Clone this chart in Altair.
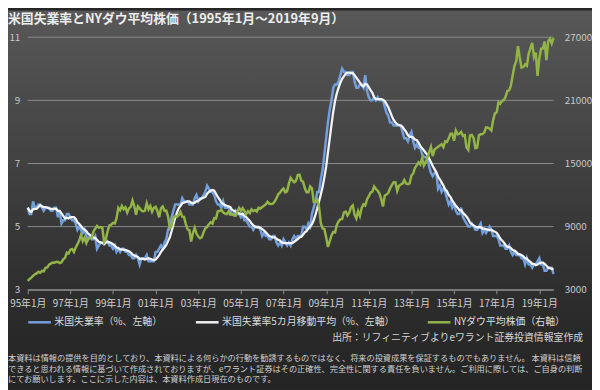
import json
import altair as alt
import pandas as pd

# ---- data (monthly, Jan 1995 - Sep 2019) ----
unemployment = [
    5.6, 5.4, 5.4, 5.8, 5.6, 5.6, 5.7, 5.7, 5.6, 5.5, 5.6, 5.6,   # 1995
    5.6, 5.5, 5.5, 5.6, 5.6, 5.3, 5.5, 5.1, 5.2, 5.2, 5.4, 5.4,   # 1996
    5.3, 5.2, 5.2, 5.1, 4.9, 5.0, 4.9, 4.8, 4.9, 4.7, 4.6, 4.7,   # 1997
    4.6, 4.6, 4.7, 4.3, 4.4, 4.5, 4.5, 4.5, 4.6, 4.5, 4.4, 4.4,   # 1998
    4.3, 4.4, 4.2, 4.3, 4.2, 4.3, 4.3, 4.2, 4.2, 4.1, 4.1, 4.0,   # 1999
    4.0, 4.1, 4.0, 3.8, 4.0, 4.0, 4.0, 4.1, 3.9, 3.9, 3.9, 3.9,   # 2000
    4.2, 4.2, 4.3, 4.4, 4.3, 4.5, 4.6, 4.9, 5.0, 5.3, 5.5, 5.7,   # 2001
    5.7, 5.7, 5.7, 5.9, 5.8, 5.8, 5.8, 5.7, 5.7, 5.7, 5.9, 6.0,   # 2002
    5.8, 5.9, 5.9, 6.0, 6.1, 6.3, 6.2, 6.1, 6.1, 6.0, 5.8, 5.7,   # 2003
    5.7, 5.6, 5.8, 5.6, 5.6, 5.6, 5.5, 5.4, 5.4, 5.5, 5.4, 5.4,   # 2004
    5.3, 5.4, 5.2, 5.2, 5.1, 5.0, 5.0, 4.9, 5.0, 5.0, 5.0, 4.9,   # 2005
    4.7, 4.8, 4.7, 4.7, 4.6, 4.6, 4.7, 4.7, 4.5, 4.4, 4.5, 4.4,   # 2006
    4.6, 4.5, 4.4, 4.5, 4.4, 4.6, 4.7, 4.6, 4.7, 4.7, 4.7, 5.0,   # 2007
    5.0, 4.9, 5.1, 5.0, 5.4, 5.6, 5.8, 6.1, 6.1, 6.5, 6.8, 7.3,   # 2008
    7.8, 8.3, 8.7, 9.0, 9.4, 9.5, 9.5, 9.6, 9.8, 10.0, 9.9, 9.9,  # 2009
    9.8, 9.8, 9.9, 9.9, 9.6, 9.4, 9.4, 9.5, 9.5, 9.4, 9.8, 9.3,   # 2010
    9.1, 9.0, 9.0, 9.1, 9.0, 9.1, 9.0, 9.0, 9.0, 8.8, 8.6, 8.5,   # 2011
    8.3, 8.3, 8.2, 8.2, 8.2, 8.2, 8.2, 8.0, 7.8, 7.8, 7.7, 7.9,   # 2012
    8.0, 7.7, 7.5, 7.6, 7.5, 7.5, 7.3, 7.2, 7.2, 7.2, 6.9, 6.7,   # 2013
    6.6, 6.7, 6.7, 6.2, 6.3, 6.1, 6.2, 6.1, 5.9, 5.7, 5.8, 5.6,   # 2014
    5.7, 5.5, 5.4, 5.4, 5.6, 5.3, 5.2, 5.1, 5.0, 5.0, 5.1, 5.0,   # 2015
    4.9, 4.9, 5.0, 5.1, 4.8, 4.9, 4.8, 4.9, 5.0, 4.9, 4.7, 4.7,   # 2016
    4.7, 4.6, 4.4, 4.4, 4.4, 4.3, 4.3, 4.4, 4.2, 4.1, 4.2, 4.1,   # 2017
    4.1, 4.1, 4.0, 4.0, 3.8, 4.0, 3.8, 3.8, 3.7, 3.8, 3.8, 3.9,   # 2018
    4.0, 3.8, 3.8, 3.6, 3.6, 3.7, 3.7, 3.7, 3.5,                  # 2019
]

dow = [
    3844, 4011, 4158, 4321, 4465, 4556, 4708, 4611, 4789, 4756, 5075, 5117,            # 1995
    5395, 5486, 5587, 5569, 5643, 5655, 5529, 5616, 5882, 6029, 6522, 6448,            # 1996
    6813, 6878, 6584, 7009, 7331, 7673, 8223, 7622, 7945, 7442, 7823, 7908,            # 1997
    7907, 8546, 8800, 9063, 8900, 8952, 8883, 7539, 7843, 8592, 9117, 9181,            # 1998
    9359, 9307, 9786, 10789, 10560, 10971, 10655, 10829, 10337, 10730, 10878, 11497,   # 1999
    10941, 10128, 10922, 10734, 10522, 10448, 10522, 11215, 10651, 10971, 10415, 10787, # 2000
    10887, 10495, 9879, 10735, 10912, 10502, 10523, 9950, 8848, 9075, 9852, 10022,     # 2001
    9920, 10106, 10404, 9946, 9925, 9243, 8737, 8664, 7592, 8397, 8896, 8342,          # 2002
    8054, 7891, 7992, 8480, 8850, 8985, 9234, 9416, 9275, 9801, 9782, 10454,           # 2003
    10488, 10584, 10358, 10226, 10188, 10435, 10140, 10174, 10080, 10027, 10428, 10783, # 2004
    10490, 10766, 10504, 10193, 10467, 10275, 10641, 10482, 10569, 10440, 10806, 10718, # 2005
    10865, 10993, 11109, 11367, 11168, 11150, 11186, 11381, 11679, 12081, 12222, 12463, # 2006
    12622, 12269, 12354, 13063, 13628, 13409, 13212, 13358, 13896, 13930, 13372, 13265, # 2007
    12650, 12266, 12263, 12820, 12638, 11350, 11378, 11544, 10851, 9325, 8829, 8776,   # 2008
    8001, 7063, 7609, 8168, 8500, 8447, 9172, 9496, 9712, 9713, 10345, 10428,          # 2009
    10067, 10325, 10857, 11009, 10137, 9774, 10466, 10015, 10788, 11118, 11006, 11578, # 2010
    11892, 12226, 12320, 12811, 12570, 12414, 12143, 11614, 10913, 11955, 12046, 12218, # 2011
    12633, 12952, 13212, 13214, 12393, 12880, 13009, 13091, 13437, 13096, 13026, 13104, # 2012
    13861, 14054, 14579, 14840, 15116, 14910, 15500, 14810, 15130, 15546, 16086, 16577, # 2013
    15699, 16322, 16458, 16581, 16717, 16827, 16563, 17098, 17043, 17391, 17828, 17823, # 2014
    17165, 18133, 17776, 17841, 18011, 17620, 17690, 16528, 16285, 17664, 17720, 17425, # 2015
    16466, 16517, 17685, 17774, 17787, 17930, 18432, 18401, 18308, 18142, 19124, 19763, # 2016
    19864, 20812, 20663, 20941, 21009, 21350, 21891, 21948, 22405, 23377, 24272, 24719, # 2017
    26149, 25029, 24103, 24163, 24416, 24271, 25415, 25965, 26458, 25116, 25538, 23327, # 2018
    25000, 25916, 25929, 26593, 24815, 26600, 26864, 26403, 26917,                     # 2019
]

x_tick_labels = ["95年1月", "97年1月", "99年1月", "01年1月", "03年1月", "05年1月", "07年1月",
                 "09年1月", "11年1月", "13年1月", "15年1月", "17年1月", "19年1月"]
left_ticks = [3, 5, 7, 9, 11]
right_ticks = [3000, 9000, 15000, 21000, 27000]
series_names = ["米国失業率（%、左軸）", "米国失業率5カ月移動平均（%、左軸）", "NYダウ平均株価（右軸）"]
series_colors = ["#739fdd", "#f4f4f4", "#93b446"]

title_text = "米国失業率とNYダウ平均株価（1995年1月～2019年9月）"
source_text = "出所：リフィニティブよりeワラント証券投資情報室作成"
footnote_text = ("本資料は情報の提供を目的としており、本資料による何らかの行動を勧誘するものではなく、将来の投資成果を保証するものでもありません。 本資料は信頼\n"
                 "できると思われる情報に基づいて作成されておりますが、eワラント証券はその正確性、完全性に関する責任を負いません。ご利用に際しては、ご自身の判断\n"
                 "にてお願いします。ここに示した内容は、本資料作成日現在のものです。")

FONT = "Noto Sans CJK JP"
W, H = 533, 256
PAD = {"left": 20, "top": 27, "right": 39, "bottom": 99}
N = len(unemployment)

df = pd.DataFrame({"idx": list(range(N)), "rate": unemployment, "dow": dow})
grid_df = pd.DataFrame({"v": left_ticks})

label_expr = json.dumps(x_tick_labels, ensure_ascii=False) + "[round(datum.value/24)]"

x_scale = alt.Scale(domain=[0, N - 1], nice=False, zero=False)
x_axis = alt.Axis(values=list(range(0, N, 24)), labelExpr=label_expr,
                  grid=False, domainColor="#8c8c8c", tickColor="#8c8c8c",
                  tickSize=4, labelPadding=5, labelFontSize=10,
                  labelColor="#d0d0d0", labelFont=FONT, labelFlush=False, zindex=1)
x_enc = alt.X("idx:Q", title=None, scale=x_scale, axis=x_axis)

left_scale = alt.Scale(domain=[3, 11], nice=False, zero=False)
left_axis = alt.Axis(values=left_ticks, grid=False, domain=False, ticks=False,
                     labelPadding=8, labelFontSize=10, labelColor="#c8c8c8",
                     labelFont=FONT, zindex=1)

color_scale = alt.Scale(domain=series_names, range=series_colors)
legend = alt.Legend(orient="none", legendX=-1, legendY=276, direction="horizontal",
                    symbolType="stroke", symbolSize=529, symbolStrokeWidth=2.5,
                    labelFont=FONT, labelFontSize=10, labelColor="#dcdcdc",
                    labelOffset=2, columnPadding=28, title=None, labelLimit=400)
color_enc = alt.Color("series:N", scale=color_scale, legend=legend)


def lit(s):
    return json.dumps(s, ensure_ascii=False)


base = alt.Chart(df)

bg = alt.Chart(pd.DataFrame({"a": [0]})).mark_rect(
    color=alt.LinearGradient(
        gradient="linear", x1=0, x2=0, y1=0, y2=1,
        stops=[alt.GradientStop(offset=0, color="#585858"),
               alt.GradientStop(offset=0.78, color="#2c2c2c"),
               alt.GradientStop(offset=1, color="#242424")])
).encode(x=alt.value(-PAD["left"]), x2=alt.value(W + PAD["right"]),
         y=alt.value(-PAD["top"]), y2=alt.value(H + PAD["bottom"]))

# horizontal gridlines at the left-axis tick values
grid = alt.Chart(grid_df).mark_rule(color="#8a8a8a", strokeWidth=1).encode(
    y=alt.Y("v:Q", title=None, scale=left_scale, axis=left_axis))

rate_line = base.transform_calculate(series=lit(series_names[0])).mark_line(
    strokeWidth=2.5).encode(
    x=x_enc, y=alt.Y("rate:Q", title=None, scale=left_scale, axis=left_axis),
    color=color_enc)

ma_line = base.transform_window(
    ma="mean(rate)", frame=[-4, 0], sort=[alt.SortField("idx")]
).transform_calculate(series=lit(series_names[1])).mark_line(strokeWidth=2.3).encode(
    x=x_enc, y=alt.Y("ma:Q", title=None, scale=left_scale, axis=left_axis),
    color=color_enc)

left_layer = alt.layer(grid, rate_line, ma_line)

dow_line = base.transform_calculate(series=lit(series_names[2])).mark_line(
    strokeWidth=2.5).encode(
    x=x_enc,
    y=alt.Y("dow:Q", title=None,
            scale=alt.Scale(domain=[3000, 27000], nice=False, zero=False),
            axis=alt.Axis(orient="right", values=right_ticks, format="d", grid=False,
                          domain=False, ticks=False, labelPadding=11, labelFontSize=10,
                          labelColor="#c8c8c8", labelFont=FONT, zindex=1)),
    color=color_enc)


def text_layer(txt, x, y, **mk):
    return alt.Chart(pd.DataFrame({"t": [txt]})).mark_text(font=FONT, **mk).encode(
        text="t:N", x=x, y=y)


title_mark = text_layer(title_text, alt.value(-PAD["left"]), alt.value(-18),
                        align="left", baseline="middle", fontSize=13, fontWeight="bold",
                        color="#ececec")
source_mark = text_layer(source_text, alt.value(563), alt.value(305),
                         align="right", baseline="middle", fontSize=10, color="#d4d4d4")
foot_mark = text_layer(footnote_text, alt.value(-PAD["left"]), alt.value(321),
                       align="left", baseline="top", fontSize=8.3, color="#cfcfcf",
                       lineBreak="\n", lineHeight=11)

chart = alt.layer(bg, left_layer, dow_line, title_mark, source_mark, foot_mark).resolve_scale(
    y="independent"
).properties(
    width=W, height=H,
    autosize=alt.AutoSizeParams(type="none"),
    padding=PAD,
    background="#262626",
).configure_view(stroke=None)

chart.save("out.html", embed_options={"renderer": "svg", "actions": False})
